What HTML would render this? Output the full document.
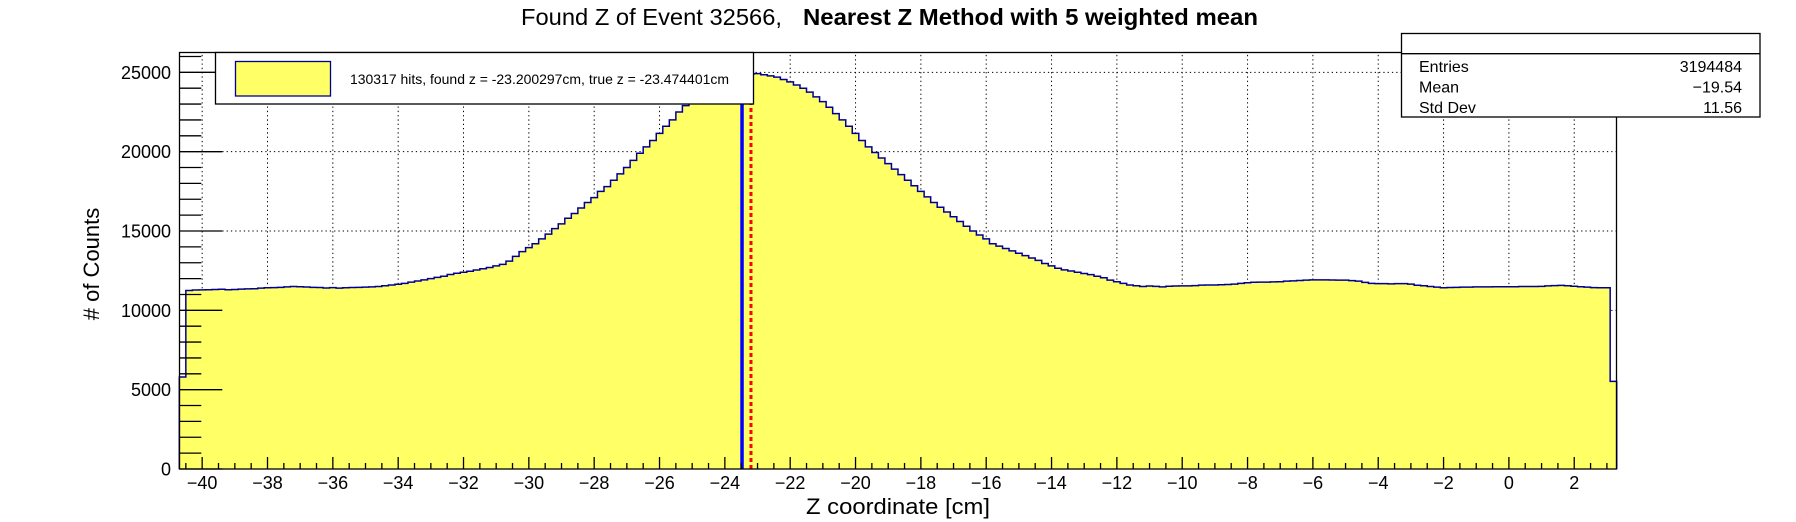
<!DOCTYPE html>
<html><head><meta charset="utf-8"><style>
html,body{margin:0;padding:0;background:#fff;}
svg{display:block;font-family:"Liberation Sans",sans-serif;}
</style></head><body>
<svg id="chart" width="1796" height="522" viewBox="0 0 1796 522" xmlns="http://www.w3.org/2000/svg">
<rect x="0" y="0" width="1796" height="522" fill="#fff"/>
<text x="521" y="25" font-size="23" textLength="261" lengthAdjust="spacingAndGlyphs">Found Z of Event 32566,</text>
<text x="803" y="25" font-size="23" font-weight="bold" textLength="455" lengthAdjust="spacingAndGlyphs">Nearest Z Method with 5 weighted mean</text>
<g id="grid"></g>
<g id="hist"></g>
<g id="markers"></g>
<g id="axes"></g>
<rect x="179.5" y="52.5" width="1437" height="416.5" fill="none" stroke="#000" stroke-width="1.3"/>
<g>
<rect x="215.5" y="52.5" width="538" height="51.5" fill="#fff" stroke="#000" stroke-width="1.3"/>
<rect x="235.5" y="61.5" width="95" height="34.5" fill="#ffff66" stroke="#000099" stroke-width="1.3"/>
<text x="350" y="84" font-size="14" textLength="379" lengthAdjust="spacingAndGlyphs">130317 hits, found z = -23.200297cm, true z = -23.474401cm</text>
</g>
<g>
<rect x="1401.5" y="33.5" width="358.5" height="83.5" fill="#fff" stroke="#000" stroke-width="1.3"/>
<line x1="1401.5" y1="53.7" x2="1760" y2="53.7" stroke="#000" stroke-width="1.3"/>
<text x="1419" y="72" font-size="16">Entries</text>
<text x="1742" y="72" font-size="16" text-anchor="end">3194484</text>
<text x="1419" y="92.5" font-size="16">Mean</text>
<text x="1742" y="92.5" font-size="16" text-anchor="end">−19.54</text>
<text x="1419" y="113" font-size="16">Std Dev</text>
<text x="1742" y="113" font-size="16" text-anchor="end">11.56</text>
</g>
<text transform="translate(99,264) rotate(-90)" font-size="22" text-anchor="middle">#  of  Counts</text>
<text x="806" y="514" font-size="22" textLength="184" lengthAdjust="spacingAndGlyphs">Z coordinate [cm]</text>
</svg>
<script>
const binStart = -40.7;
const binWidth = 0.2;
const counts = [5800,
11250,11280,11290,11300,11310, 11330,11300,11310,11340,11350,
11360,11400,11420,11430,11450, 11480,11500,11490,11470,11450,
11440,11410,11430,11400,11420, 11440,11450,11460,11480,11500,
11550,11600,11640,11700,11780, 11850,11920,12000,12080,12150,
12260,12340,12400,12460,12540, 12620,12700,12800,12900,13100,
13400,13700,13950,14200,14500, 14800,15150,15450,15800,16100,
16450,16800,17100,17500,17800, 18200,18600,19000,19450,19900,
20300,20700,21150,21600,22000, 22500,22900,23300,23650,23950,
24200,24400,24550,24700,24800, 24850,24900,
24920,
24850,24780,24700,24550,24400, 24200,24000,23750,23450,23150,
22800,22400,22000,21600,21150, 20700,20300,19950,19600,19250,
18900,18550,18200,17850,17500, 17150,16800,16500,16200,15900,
15600,15300,15000,14750,14500, 14200,14050,13900,13750,13600,
13450,13300,13150,12950,12800, 12650,12550,12480,12400,12320,
12250,12150,12050,11900,11800, 11700,11600,11550,11500,11530,
11510,11480,11520,11530,11540, 11540,11560,11590,11600,11600,
11610,11630,11650,11700,11740, 11770,11780,11780,11790,11800,
11840,11860,11880,11900,11920, 11920,11920,11910,11900,11900,
11870,11840,11760,11700,11680, 11680,11670,11680,11680,11650,
11580,11550,11500,11460,11420, 11440,11450,11460,11460,11480,
11480,11480,11490,11490,11490, 11490,11500,11500,11500,11510,
11540,11560,11570,11550,11520, 11490,11460,11430,11420,11420,
5520];
const xTicks = [-40,-38,-36,-34,-32,-30,-28,-26,-24,-22,-20,-18,-16,-14,-12,-10,-8,-6,-4,-2,0,2];
const xTickLabels = ["−40","−38","−36","−34","−32","−30","−28","−26","−24","−22","−20","−18","−16","−14","−12","−10","−8","−6","−4","−2","0","2"];
const yTicks = [0,5000,10000,15000,20000,25000];
const yTickLabels = ["0","5000","10000","15000","20000","25000"];
const foundZ = [-23.200297];
const trueZ = [-23.474401];

const NS = "http://www.w3.org/2000/svg";
const X0 = 179.3, X1 = 1616.7, Y0 = 469, Ytop = 52.5;
const xMin = -40.7, xMax = 3.3, yMax = 26250;
function xs(z){ return X0 + (z - xMin) / (xMax - xMin) * (X1 - X0); }
function ys(v){ return Y0 - v / yMax * (Y0 - Ytop); }
function mk(tag, attrs, parent){ const e = document.createElementNS(NS, tag); for (const k in attrs) e.setAttribute(k, attrs[k]); parent.appendChild(e); return e; }

const grid = document.getElementById('grid');
xTicks.forEach(t => {
  const l = mk('line', {x1: xs(t), x2: xs(t), y1: Y0, y2: Ytop, stroke: '#000', 'stroke-width': 1, 'stroke-dasharray': '1.3,3'}, grid);
  
  
});
yTicks.forEach(t => {
  if (t === 0) return;
  const l = mk('line', {x1: X0, x2: X1, y1: ys(t), y2: ys(t), stroke: '#000', 'stroke-width': 1, 'stroke-dasharray': '1.3,3'}, grid);
  
  
});

const hist = document.getElementById('hist');
let d = 'M' + xs(binStart) + ',' + ys(0);
let outline = 'M' + xs(binStart) + ',' + ys(0);
counts.forEach((c, i) => {
  const a = xs(binStart + i * binWidth), b = xs(binStart + (i + 1) * binWidth);
  d += ' L' + a + ',' + ys(c) + ' L' + b + ',' + ys(c);
  outline += ' L' + a + ',' + ys(c) + ' L' + b + ',' + ys(c);
});
d += ' L' + xs(binStart + counts.length * binWidth) + ',' + ys(0) + ' Z';
outline += ' L' + xs(binStart + counts.length * binWidth) + ',' + ys(0);
const fill = mk('path', {d: d, fill: '#ffff66', stroke: 'none'}, hist);


const ol = mk('path', {d: outline, fill: 'none', stroke: '#000099', 'stroke-width': 1.5}, hist);



const markers = document.getElementById('markers');
trueZ.forEach(z => {
  const l = mk('line', {x1: xs(z), x2: xs(z), y1: Y0, y2: Ytop, stroke: '#0000ff', 'stroke-width': 3.5}, markers);
  
  
});
foundZ.forEach(z => {
  const l = mk('line', {x1: xs(z), x2: xs(z), y1: Y0, y2: Ytop, stroke: '#ff0000', 'stroke-width': 3, 'stroke-dasharray': '4,3'}, markers);
  
  
});

const axes = document.getElementById('axes');
for (let t = -40.5; t <= 3.3; t += 0.5) {
  const major = Math.abs(t / 2 - Math.round(t / 2)) < 1e-6;
  const l = mk('line', {x1: xs(t), x2: xs(t), y1: Y0, y2: Y0 - (major ? 12 : 6), stroke: '#000', 'stroke-width': 1.3}, axes);
  
  
}
xTicks.forEach((t, i) => {
  const tx = mk('text', {x: xs(t), y: 489, 'font-size': 18, 'text-anchor': 'middle'}, axes);
  tx.textContent = xTickLabels[i];
  
  
});
for (let v = 0; v <= 26000; v += 1000) {
  const major = v % 5000 === 0;
  const l = mk('line', {x1: X0, x2: X0 + (major ? 43 : 22), y1: ys(v), y2: ys(v), stroke: '#000', 'stroke-width': 1.3}, axes);
  
  
}
yTicks.forEach((t, i) => {
  const tx = mk('text', {x: 171, y: ys(t) + 6.5, 'font-size': 18, 'text-anchor': 'end'}, axes);
  tx.textContent = yTickLabels[i];
  
  
});
</script>
</body></html>
